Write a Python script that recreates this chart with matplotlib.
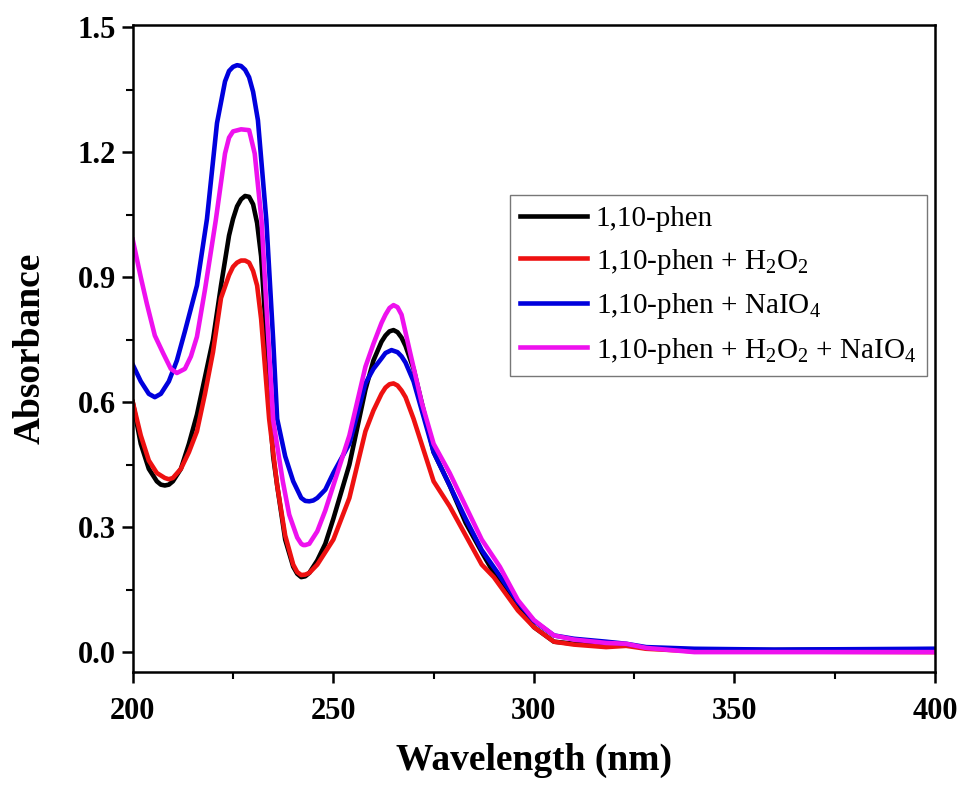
import numpy as np
import matplotlib
matplotlib.use("Agg")
import matplotlib.pyplot as plt
from matplotlib.ticker import MultipleLocator

plt.rcParams['font.family'] = ['Liberation Serif', 'DejaVu Serif']
plt.rcParams['mathtext.fontset'] = 'custom'
plt.rcParams['mathtext.rm'] = 'Liberation Serif'

# 1,10-phen
wl_phen = [200, 202, 204, 206, 207, 208, 209, 210, 212, 214, 216, 218, 220, 222, 224, 225, 226, 227, 228, 229,
           230, 231, 232, 233, 234, 235, 236, 238, 240, 241, 242, 243, 244, 246, 248, 250, 254, 258, 260, 262,
           263, 264, 265, 266, 267, 268, 270, 272, 275, 279, 283, 287, 290, 293, 296, 300, 305, 310, 318, 323,
           328, 340, 360, 400]
abs_phen = [0.60, 0.50, 0.44, 0.41, 0.402, 0.40, 0.402, 0.41, 0.44, 0.50, 0.57, 0.66, 0.75, 0.88, 1.00, 1.04, 1.07, 1.087, 1.095, 1.093,
            1.075, 1.03, 0.95, 0.80, 0.60, 0.47, 0.40, 0.27, 0.205, 0.188, 0.18, 0.182, 0.19, 0.22, 0.26, 0.32, 0.45, 0.63, 0.70, 0.745,
            0.76, 0.77, 0.773, 0.768, 0.755, 0.735, 0.68, 0.60, 0.48, 0.40, 0.31, 0.24, 0.19, 0.15, 0.11, 0.06, 0.025, 0.02, 0.015, 0.018,
            0.01, 0.005, 0.005, 0.007]

# 1,10-phen + H2O2
wl_h2o2 = [200, 202, 204, 206, 208, 209, 210, 212, 214, 216, 218, 220, 222, 224, 225, 226, 227, 228, 229, 230,
           231, 232, 233, 234, 236, 238, 240, 241, 242, 243, 244, 246, 248, 250, 254, 258, 260, 262, 263, 264,
           265, 266, 267, 268, 270, 272, 275, 279, 283, 287, 290, 293, 296, 300, 305, 310, 318, 323, 328, 340,
           400]
abs_h2o2 = [0.60, 0.52, 0.46, 0.43, 0.418, 0.415, 0.418, 0.44, 0.48, 0.53, 0.62, 0.72, 0.85, 0.905, 0.925, 0.935, 0.94, 0.94, 0.935, 0.915,
            0.88, 0.80, 0.68, 0.56, 0.40, 0.28, 0.21, 0.192, 0.185, 0.186, 0.19, 0.21, 0.24, 0.27, 0.37, 0.53, 0.58, 0.62, 0.635, 0.643,
            0.645, 0.64, 0.628, 0.612, 0.56, 0.50, 0.41, 0.35, 0.28, 0.21, 0.18, 0.14, 0.10, 0.06, 0.025, 0.018, 0.012, 0.015, 0.008, 0.002,
            0.0]

# 1,10-phen + NaIO4
wl_naio4 = [200, 202, 204, 205.5, 207, 209, 211, 213, 216, 218.5, 221, 223, 224, 225, 226, 227, 228, 229, 230, 231.2,
            233.3, 235, 236, 238, 240, 242, 243, 244, 245, 246, 248, 250, 254, 258, 260, 262, 263, 264.5, 266, 267,
            268, 270, 275, 279, 283, 287, 291, 296, 300, 305, 310, 318, 323, 328, 340, 360, 400]
abs_naio4 = [0.69, 0.65, 0.62, 0.612, 0.62, 0.65, 0.70, 0.77, 0.88, 1.04, 1.27, 1.37, 1.395, 1.405, 1.409, 1.407, 1.398, 1.38, 1.345, 1.277,
             1.037, 0.75, 0.56, 0.47, 0.41, 0.37, 0.363, 0.362, 0.364, 0.37, 0.39, 0.43, 0.50, 0.645, 0.68, 0.705, 0.718, 0.725, 0.72, 0.71,
             0.695, 0.65, 0.48, 0.40, 0.32, 0.245, 0.19, 0.12, 0.075, 0.04, 0.032, 0.025, 0.02, 0.012, 0.008, 0.006, 0.008]

# 1,10-phen + H2O2 + NaIO4
wl_both = [200, 202, 203.5, 205.5, 207.6, 209.5, 211, 213, 214.5, 216, 218, 220.7, 223, 224, 225, 227, 229, 230.4, 232.1, 233.5,
           235, 237.4, 239, 241, 242, 242.5, 243, 244, 246, 248, 250, 254, 258, 260, 262, 263, 264, 265, 266, 267,
           269, 272, 275, 279, 283, 287, 291.5, 296, 300, 305, 310, 318, 323, 328, 340, 400]
abs_both = [0.99, 0.90, 0.837, 0.76, 0.717, 0.68, 0.67, 0.68, 0.71, 0.757, 0.87, 1.037, 1.197, 1.235, 1.25, 1.255, 1.253, 1.197, 1.037, 0.80,
            0.557, 0.41, 0.33, 0.275, 0.26, 0.257, 0.257, 0.26, 0.29, 0.34, 0.40, 0.52, 0.685, 0.74, 0.79, 0.81, 0.826, 0.833, 0.828, 0.81,
            0.725, 0.60, 0.50, 0.43, 0.35, 0.27, 0.205, 0.125, 0.077, 0.04, 0.03, 0.022, 0.02, 0.01, 0.0, 0.0]

fig = plt.figure(figsize=(9.62, 7.87), dpi=100)
ax = fig.add_axes([0.138, 0.146, 0.834, 0.822])

lw = 3.3
ax.plot(wl_phen, abs_phen, color='black', lw=lw, label='1,10-phen')
ax.plot(wl_h2o2, abs_h2o2, color='#ee1111', lw=lw, label=r'1,10-phen + H$\mathregular{_2}$O$\mathregular{_2}$')
ax.plot(wl_naio4, abs_naio4, color='#0000dd', lw=lw, label=r'1,10-phen + NaIO$\mathregular{_4}$')
ax.plot(wl_both, abs_both, color='#ee11ee', lw=lw,
        label=r'1,10-phen + H$\mathregular{_2}$O$\mathregular{_2}$ + NaIO$\mathregular{_4}$')

ax.set_xlim(200, 400)
ax.set_ylim(-0.048, 1.505)
ax.xaxis.set_major_locator(MultipleLocator(50))
ax.xaxis.set_minor_locator(MultipleLocator(25))
ax.yaxis.set_major_locator(MultipleLocator(0.3))
ax.yaxis.set_minor_locator(MultipleLocator(0.15))
ax.yaxis.set_major_formatter(matplotlib.ticker.FormatStrFormatter('%.1f'))

for s in ax.spines.values():
    s.set_linewidth(1.8)
ax.tick_params(which='major', direction='out', length=8, width=1.8, labelsize=22)
ax.tick_params(axis='x', which='major', pad=10)
ax.tick_params(axis='y', which='major', pad=4)
ax.tick_params(which='minor', direction='out', length=5, width=1.5)
for lab in ax.get_xticklabels() + ax.get_yticklabels():
    lab.set_fontweight('bold')

ax.set_xlabel('Wavelength (nm)', fontsize=27, fontweight='bold', labelpad=12)
ax.set_ylabel('Absorbance', fontsize=27, fontweight='bold', labelpad=22)

leg = ax.legend(loc='upper left', bbox_to_anchor=(0.47, 0.737), borderaxespad=0, fontsize=21,
                fancybox=False, edgecolor='#555555', handlelength=2.3, handletextpad=0.3,
                labelspacing=0.5, borderpad=0.35)
leg.get_frame().set_linewidth(1.0)

fig.savefig('out.png', dpi=100)
